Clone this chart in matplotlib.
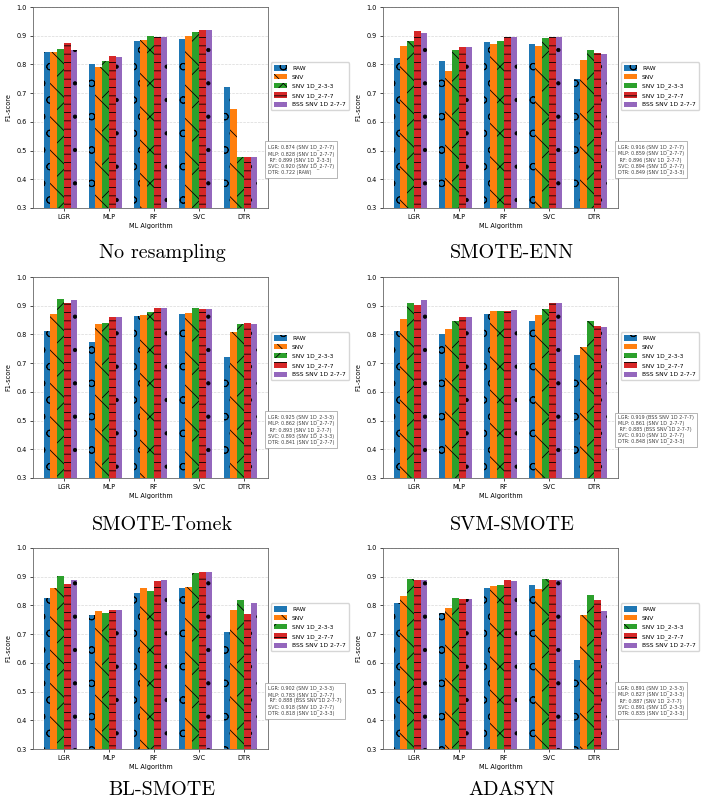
import numpy as np
import matplotlib
matplotlib.use("Agg")
from matplotlib import pyplot as plt

# algorithms on the x axis and the five preprocessing variants
algos = ["LGR", "MLP", "RF", "SVC", "DTR"]
series = ["RAW", "SNV", "SNV 1D_2-3-3", "SNV 1D_2-7-7", "BSS SNV 1D 2-7-7"]
colors = ["#1f77b4", "#ff7f0e", "#2ca02c", "#d62728", "#9467bd"]
hatches = ["o", "\\", "x", "--", "."]

# F1-scores, one row per series (RAW, SNV, 2-3-3, 2-7-7, BSS), columns = algos
no_resampling = [[0.842, 0.802, 0.883, 0.889, 0.722],
                 [0.843, 0.790, 0.885, 0.900, 0.644],
                 [0.853, 0.811, 0.899, 0.914, 0.477],
                 [0.874, 0.828, 0.896, 0.920, 0.477],
                 [0.851, 0.827, 0.897, 0.919, 0.477]]
smote_enn = [[0.822, 0.813, 0.879, 0.872, 0.749],
             [0.865, 0.776, 0.870, 0.865, 0.817],
             [0.883, 0.851, 0.882, 0.891, 0.849],
             [0.916, 0.859, 0.896, 0.894, 0.840],
             [0.909, 0.859, 0.896, 0.894, 0.835]]
smote_tomek = [[0.813, 0.773, 0.863, 0.870, 0.722],
               [0.870, 0.838, 0.868, 0.874, 0.810],
               [0.925, 0.841, 0.878, 0.893, 0.838],
               [0.909, 0.862, 0.893, 0.887, 0.841],
               [0.920, 0.862, 0.893, 0.887, 0.836]]
svm_smote = [[0.813, 0.803, 0.870, 0.846, 0.730],
             [0.853, 0.818, 0.881, 0.868, 0.755],
             [0.911, 0.846, 0.882, 0.889, 0.848],
             [0.904, 0.861, 0.882, 0.910, 0.831],
             [0.919, 0.861, 0.885, 0.909, 0.827]]
bl_smote = [[0.825, 0.765, 0.843, 0.860, 0.709],
            [0.860, 0.780, 0.862, 0.865, 0.785],
            [0.902, 0.775, 0.849, 0.913, 0.818],
            [0.873, 0.783, 0.885, 0.918, 0.770],
            [0.890, 0.783, 0.888, 0.917, 0.808]]
adasyn = [[0.810, 0.772, 0.860, 0.872, 0.610],
          [0.832, 0.792, 0.866, 0.856, 0.765],
          [0.891, 0.827, 0.871, 0.891, 0.835],
          [0.887, 0.822, 0.887, 0.890, 0.820],
          [0.889, 0.823, 0.886, 0.890, 0.781]]

panels = [("No resampling", no_resampling), ("SMOTE-ENN", smote_enn),
          ("SMOTE-Tomek", smote_tomek), ("SVM-SMOTE", svm_smote),
          ("BL-SMOTE", bl_smote), ("ADASYN", adasyn)]

plt.rcParams["font.size"] = 4.7
plt.rcParams["hatch.linewidth"] = 0.6

W, H = 708, 808
fig = plt.figure(figsize=(W / 100, H / 100), dpi=100)

# pixel layout of the 3x2 grid
lefts = [33, 383]
tops = [7, 277, 548]
title_y = [253, 525, 790]
title_x = [162, 512]
aw, ah = 235, 201

x = np.arange(len(algos))
w = 0.15
for k, (name, data) in enumerate(panels):
    r, c = divmod(k, 2)
    ax = fig.add_axes([lefts[c] / W, 1 - (tops[r] + ah) / H, aw / W, ah / H])
    data = np.array(data)
    for i in range(len(series)):
        ax.bar(x + i * w, data[i], w, color=colors[i], hatch=hatches[i],
               label=series[i], linewidth=0)
    ax.set_xticks(x + 2.5 * w)
    ax.set_xticklabels(algos)
    ax.set_ylim(0.3, 1.0)
    ax.set_ylabel("F1-score")
    ax.set_xlabel("ML Algorithm", labelpad=2)
    ax.tick_params(length=2.5, width=0.5, pad=2)
    ax.yaxis.grid(True, linestyle="--", color="0.85", linewidth=0.5)
    ax.set_axisbelow(True)
    for s in ax.spines.values():
        s.set_color("0.4")
        s.set_linewidth(0.6)

    ax.legend(loc="center left", bbox_to_anchor=(1.0, 0.605), fontsize=4.3,
              handlelength=2.2, handleheight=1.0, borderpad=0.5)

    # best score per algorithm
    lines = []
    for j, a in enumerate(algos):
        b = int(np.argmax(data[:, j]))
        lines.append(f"{a:>3}: {data[b, j]:.3f} ({series[b]})")
    ax.text(1.0, 0.24, "\n".join(lines), transform=ax.transAxes, fontsize=3.5,
            va="center", ha="left", color="0.25", linespacing=1.15,
            bbox=dict(boxstyle="square,pad=0.6", fc="white", ec="0.6", lw=0.5))

    fig.text(title_x[c] / W, 1 - title_y[r] / H, name, fontsize=14.5,
             family="cmr10", ha="center", va="center")

fig.savefig("out.png", dpi=100)
